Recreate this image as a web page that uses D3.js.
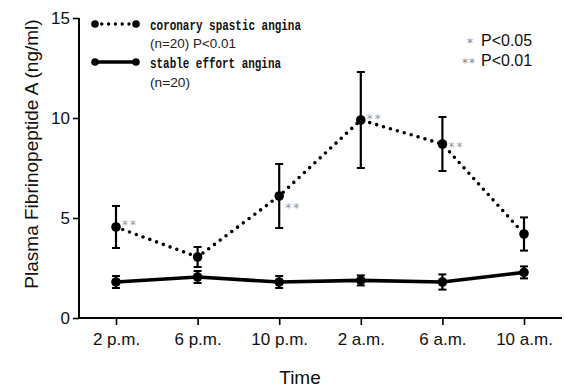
<!DOCTYPE html>
<html>
<head>
<meta charset="utf-8">
<script src="https://cdn.jsdelivr.net/npm/d3@7"></script>
<style>
  body { margin: 0; background: #fff; }
</style>
</head>
<body>
<div id="chart"></div>
<script>
// data
var times = ["2 p.m.", "6 p.m.", "10 p.m.", "2 a.m.", "6 a.m.", "10 a.m."];
var spasticMean = [4.55, 3.05, 6.1, 9.9, 8.7, 4.2];
var spasticErr = [1.05, 0.5, 1.6, 2.4, 1.35, 0.83];
var stableMean = [1.8, 2.05, 1.8, 1.88, 1.8, 2.28];
var stableErr = [0.3, 0.3, 0.3, 0.25, 0.38, 0.3];
var spasticSig = ["**", "", "**", "**", "**", ""];
var yTicks = [0, 5, 10, 15];

var svgWidth = 565;
var svgHeight = 391;
var sans = "'Liberation Sans', Arial, sans-serif";
var mono = "'Liberation Mono', 'DejaVu Sans Mono', monospace";
var starFont = "'DejaVu Sans', sans-serif";

var svg = d3.select("#chart")
  .append("svg")
  .attr("width", svgWidth)
  .attr("height", svgHeight)
  .style("font-family", sans);

var x = d3.scalePoint().domain(times).range([116, 524]);
var y = d3.scaleLinear().domain([0, 15]).range([318, 18]);

// axes
var leftAxis = d3.axisLeft(y).tickValues(yTicks).tickSize(6).tickSizeOuter(0).tickPadding(3);
var bottomAxis = d3.axisBottom(x).tickSize(7).tickSizeOuter(0).tickPadding(8);

var gy = svg.append("g")
  .attr("transform", "translate(79,0)")
  .call(leftAxis);
gy.select(".domain").remove();
gy.append("line").attr("y1", y(15)).attr("y2", y(0)).attr("stroke", "#000").attr("stroke-width", 2);

var gx = svg.append("g")
  .attr("transform", "translate(0,318)")
  .call(bottomAxis);
gx.select(".domain").remove();
gx.append("line").attr("x1", 78).attr("x2", 562).attr("stroke", "#000").attr("stroke-width", 2);

svg.selectAll(".tick line").attr("stroke", "#000").attr("stroke-width", 1.6);
svg.selectAll(".tick text").style("font-size", "17px").style("font-family", sans).attr("fill", "#111");

// axis titles
svg.append("text")
  .attr("transform", "translate(38,154) rotate(-90)")
  .attr("text-anchor", "middle")
  .style("font-size", "19px")
  .attr("fill", "#111")
  .text("Plasma Fibrinopeptide A (ng/ml)");

svg.append("text")
  .attr("x", 300)
  .attr("y", 384)
  .attr("text-anchor", "middle")
  .style("font-size", "19px")
  .attr("fill", "#111")
  .text("Time");

function drawSeries(means, errs, dotted) {
  var pts = times.map(function(t, i) { return { t: t, m: means[i], e: errs[i] }; });
  var g = svg.append("g");

  // error bars
  pts.forEach(function(d) {
    var cx = x(d.t);
    g.append("line").attr("x1", cx).attr("x2", cx)
      .attr("y1", y(d.m - d.e)).attr("y2", y(d.m + d.e))
      .attr("stroke", "#000").attr("stroke-width", 2.2);
    [d.m - d.e, d.m + d.e].forEach(function(v) {
      g.append("line").attr("x1", cx - 4).attr("x2", cx + 4)
        .attr("y1", y(v)).attr("y2", y(v))
        .attr("stroke", "#000").attr("stroke-width", 2);
    });
  });

  var line = d3.line().x(function(d) { return x(d.t); }).y(function(d) { return y(d.m); });
  var path = g.append("path")
    .datum(pts)
    .attr("d", line)
    .attr("fill", "none")
    .attr("stroke", "#000")
    .attr("stroke-width", 3.6)
    .attr("stroke-linecap", "round")
    .attr("stroke-linejoin", "round");
  if (dotted) path.attr("stroke-dasharray", "0 7.2");

  g.selectAll("circle")
    .data(pts)
    .enter()
    .append("circle")
    .attr("cx", function(d) { return x(d.t); })
    .attr("cy", function(d) { return y(d.m); })
    .attr("r", 4.8)
    .attr("fill", "#000");
}

drawSeries(stableMean, stableErr, false);
drawSeries(spasticMean, spasticErr, true);

// significance marks
var sigDy = [2, 0, 16, 3, 7, 0];
times.forEach(function(t, i) {
  if (!spasticSig[i]) return;
  svg.append("text")
    .attr("x", x(t) + 6)
    .attr("y", y(spasticMean[i]) + sigDy[i])
    .style("font-family", starFont)
    .style("font-size", "12px")
    .attr("letter-spacing", 2)
    .attr("fill", "#999")
    .text(spasticSig[i]);
});

// legend
var leg = svg.append("g");
leg.append("line").attr("x1", 95).attr("x2", 136).attr("y1", 24).attr("y2", 24)
  .attr("stroke", "#000").attr("stroke-width", 3.4).attr("stroke-linecap", "round")
  .attr("stroke-dasharray", "0 6.8");
leg.append("circle").attr("cx", 95).attr("cy", 24).attr("r", 3.8);
leg.append("circle").attr("cx", 136).attr("cy", 24).attr("r", 3.8);
leg.append("line").attr("x1", 95).attr("x2", 136).attr("y1", 62).attr("y2", 62)
  .attr("stroke", "#000").attr("stroke-width", 3.4);
leg.append("circle").attr("cx", 95).attr("cy", 62).attr("r", 3.8);
leg.append("circle").attr("cx", 136).attr("cy", 62).attr("r", 3.8);

leg.append("text").attr("x", 150).attr("y", 30)
  .style("font-family", mono).style("font-size", "15px").style("font-weight", "bold")
  .attr("fill", "#111")
  .attr("textLength", 151).attr("lengthAdjust", "spacingAndGlyphs")
  .text("coronary spastic angina");
leg.append("text").attr("x", 150).attr("y", 48)
  .style("font-size", "13px").attr("fill", "#222")
  .attr("textLength", 86).attr("lengthAdjust", "spacingAndGlyphs")
  .text("(n=20) P<0.01");
leg.append("text").attr("x", 150).attr("y", 68)
  .style("font-family", mono).style("font-size", "15px").style("font-weight", "bold")
  .attr("fill", "#111")
  .attr("textLength", 131).attr("lengthAdjust", "spacingAndGlyphs")
  .text("stable effort angina");
leg.append("text").attr("x", 150).attr("y", 87)
  .style("font-size", "13px").attr("fill", "#222")
  .attr("textLength", 40).attr("lengthAdjust", "spacingAndGlyphs")
  .text("(n=20)");

// p-value key
leg.append("text").attr("x", 470).attr("y", 47).attr("text-anchor", "middle")
  .style("font-family", starFont).style("font-size", "12px").attr("fill", "#888").text("*");
leg.append("text").attr("x", 469).attr("y", 67).attr("text-anchor", "middle")
  .attr("letter-spacing", 1)
  .style("font-family", starFont).style("font-size", "12px").attr("fill", "#888").text("**");
leg.append("text").attr("x", 481).attr("y", 46)
  .style("font-size", "16px").attr("fill", "#111").text("P<0.05");
leg.append("text").attr("x", 481).attr("y", 66)
  .style("font-size", "16px").attr("fill", "#111").text("P<0.01");
</script>
</body>
</html>
